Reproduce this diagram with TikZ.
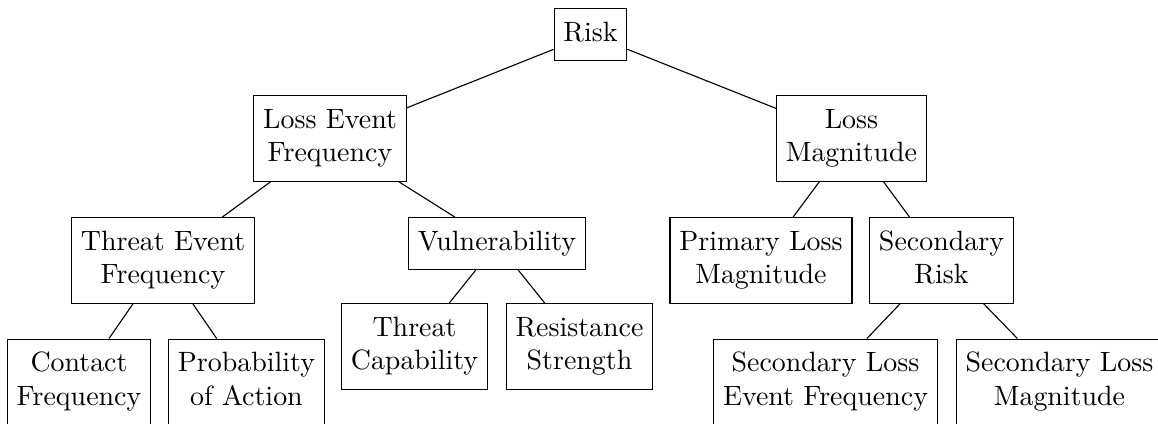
\documentclass[tikz,border=0pt]{standalone}
\usepackage{tikz}

\tikzset{
  factor/.style={draw, rectangle, inner sep=0.3333em, anchor=north},
}
\newcommand{\boxlines}[1]{\begin{tabular}{@{}c@{}}#1\end{tabular}}

\begin{document}
\begin{tikzpicture}[x=0.358pt, y=-0.358pt]
    % Frame of the picture
    \useasboundingbox (0,0) rectangle (1158,423);
    \clip (0,0) rectangle (1158,423);

    % Root
    \node[factor] (risk) at (590.5,8) {\boxlines{Risk}};

    % Level 1
    \node[factor] (lef) at (330,95) {\boxlines{Loss Event\\Frequency}};
    \node[factor] (lm) at (851.5,95) {\boxlines{Loss\\Magnitude}};

    % Level 2
    \node[factor] (tef) at (163,217) {\boxlines{Threat Event\\Frequency}};
    \node[factor] (vuln) at (497,217) {\boxlines{Vulnerability}};
    \node[factor] (plm) at (761,217) {\boxlines{Primary Loss\\Magnitude}};
    \node[factor] (sr) at (941.5,217) {\boxlines{Secondary\\Risk}};

    % Level 3
    \node[factor] (cf) at (79,338.5) {\boxlines{Contact\\Frequency}};
    \node[factor] (poa) at (246.5,338.5) {\boxlines{Probability\\of Action}};
    \node[factor] (tc) at (414.5,303) {\boxlines{Threat\\Capability}};
    \node[factor] (rs) at (579.5,303) {\boxlines{Resistance\\Strength}};
    \node[factor] (slef) at (825.5,338.5) {\boxlines{Secondary Loss\\Event Frequency}};
    \node[factor] (slm) at (1059.5,338.5) {\boxlines{Secondary Loss\\Magnitude}};

    % Edges
    \draw (risk) -- (lef);
    \draw (risk) -- (lm);
    \draw (lef) -- (tef);
    \draw (lef) -- (vuln);
    \draw (lm) -- (plm);
    \draw (lm) -- (sr);
    \draw (tef) -- (cf);
    \draw (tef) -- (poa);
    \draw (vuln) -- (tc);
    \draw (vuln) -- (rs);
    \draw (sr) -- (slef);
    \draw (sr) -- (slm);
\end{tikzpicture}
\end{document}
